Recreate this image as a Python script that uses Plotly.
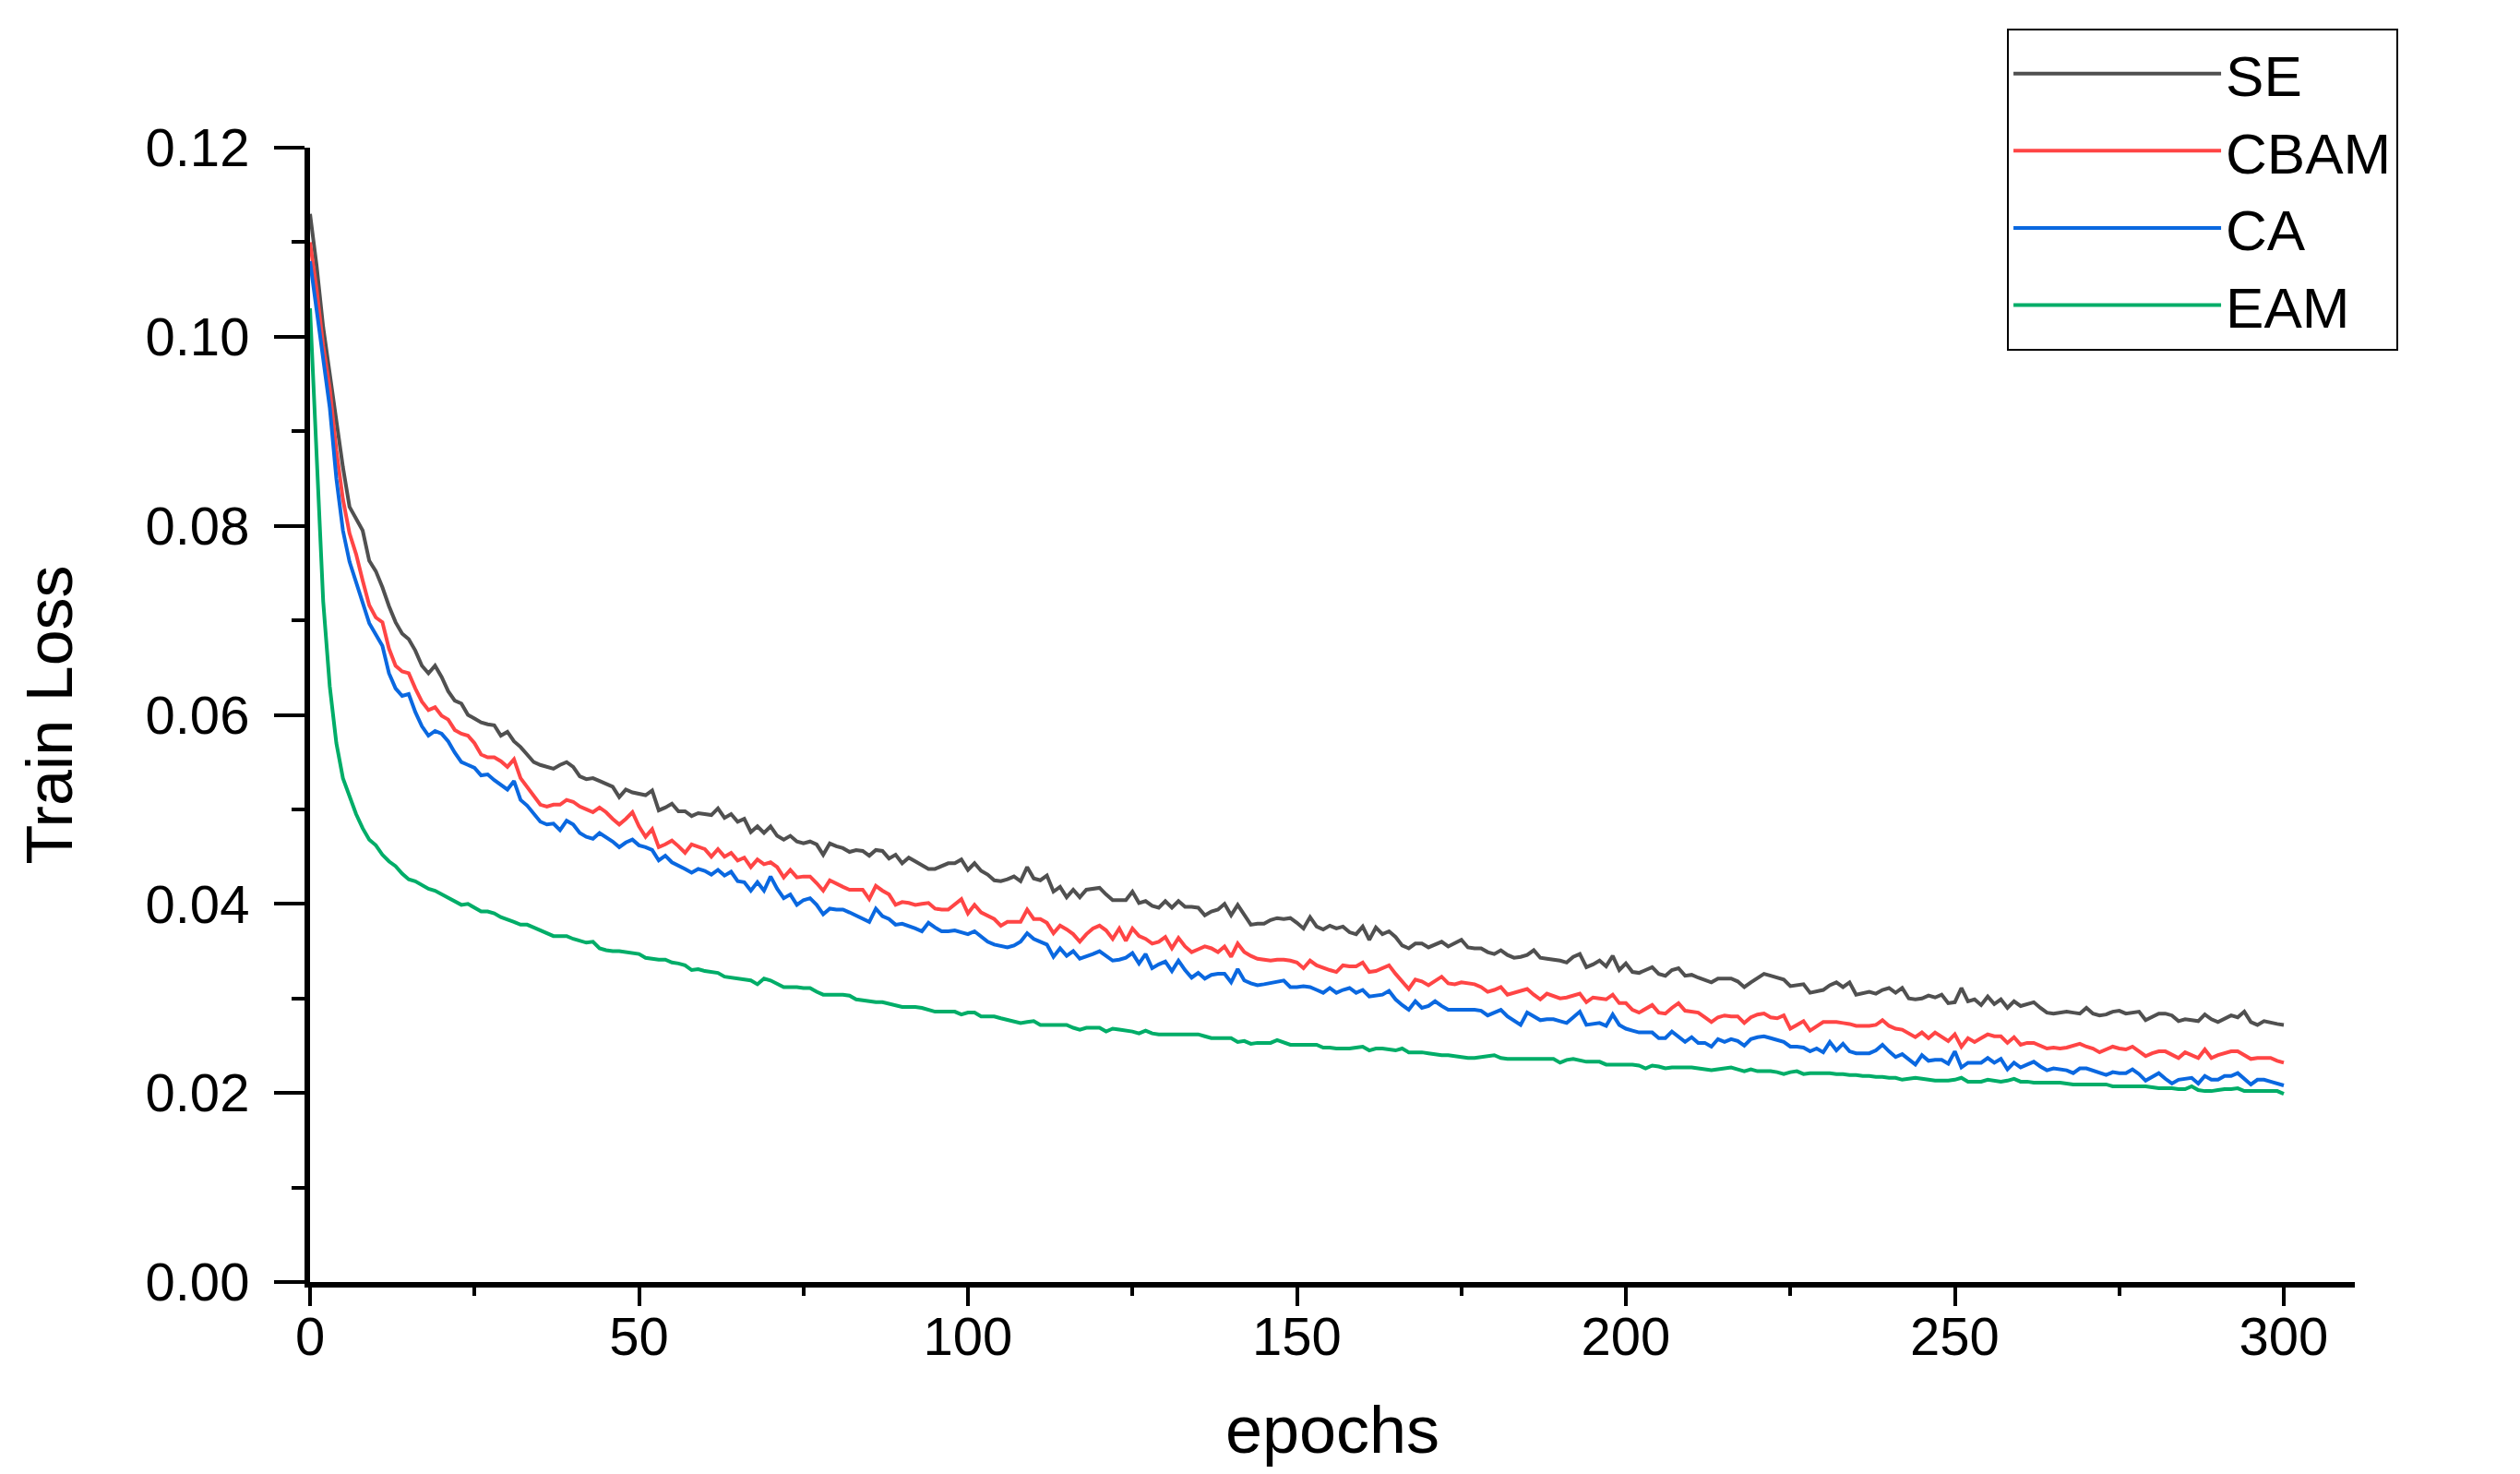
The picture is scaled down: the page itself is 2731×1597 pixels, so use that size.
import plotly.graph_objects as go

series_names = ["SE", "CBAM", "CA", "EAM"]
series_colors = ["#505050", "#FF4545", "#0A68E0", "#00AD68"]

se_loss = [
    0.1130, 0.1075, 0.1010, 0.0960, 0.0905, 0.0862, 0.0820, 0.0808, 0.0795, 0.0763,
    0.0752, 0.0735, 0.0715, 0.0698, 0.0686, 0.0680, 0.0668, 0.0652, 0.0644, 0.0652,
    0.0640, 0.0625, 0.0615, 0.0612, 0.0600, 0.0596, 0.0592, 0.0590, 0.0589, 0.0578,
    0.0582, 0.0572, 0.0566, 0.0558, 0.0550, 0.0547, 0.0545, 0.0543, 0.0547, 0.0550,
    0.0545, 0.0535, 0.0532, 0.0533, 0.0530, 0.0527, 0.0524, 0.0513, 0.0521, 0.0518,
    0.0517, 0.0515, 0.0520, 0.0499, 0.0502, 0.0506, 0.0498, 0.0498, 0.0493, 0.0496,
    0.0495, 0.0494, 0.0501, 0.0491, 0.0495, 0.0487, 0.0490, 0.0476, 0.0482, 0.0475,
    0.0482, 0.0472, 0.0468, 0.0472, 0.0466, 0.0464, 0.0466, 0.0463, 0.0452, 0.0464,
    0.0461, 0.0459, 0.0455, 0.0457, 0.0456, 0.0451, 0.0457, 0.0456, 0.0448, 0.0452,
    0.0443, 0.0449, 0.0445, 0.0441, 0.0437, 0.0437, 0.0440, 0.0443, 0.0443, 0.0447,
    0.0436, 0.0443, 0.0435, 0.0431, 0.0425, 0.0424, 0.0426, 0.0429, 0.0424, 0.0439,
    0.0427, 0.0425, 0.0430, 0.0413, 0.0418, 0.0407, 0.0415, 0.0407, 0.0415, 0.0416,
    0.0417, 0.0410, 0.0404, 0.0404, 0.0404, 0.0413, 0.0401, 0.0403, 0.0398, 0.0396,
    0.0403, 0.0396, 0.0403, 0.0397, 0.0397, 0.0396, 0.0388, 0.0392, 0.0394, 0.0400,
    0.0388, 0.0399, 0.0388, 0.0378, 0.0379, 0.0379, 0.0383, 0.0385, 0.0384, 0.0385,
    0.0380, 0.0374, 0.0386, 0.0376, 0.0373, 0.0377, 0.0374, 0.0376, 0.0370, 0.0368,
    0.0376, 0.0362, 0.0375, 0.0368, 0.0371, 0.0365, 0.0356, 0.0353, 0.0358, 0.0358,
    0.0354, 0.0357, 0.0360, 0.0355, 0.0358, 0.0362, 0.0354, 0.0353, 0.0353, 0.0349,
    0.0347, 0.0351, 0.0346, 0.0343, 0.0344, 0.0346, 0.0351, 0.0343, 0.0342, 0.0341,
    0.0340, 0.0338, 0.0344, 0.0347, 0.0333, 0.0336, 0.0340, 0.0334, 0.0345, 0.0330,
    0.0337, 0.0328, 0.0327, 0.0330, 0.0333, 0.0326, 0.0324, 0.0330, 0.0332, 0.0324,
    0.0325, 0.0322, 0.0320, 0.0317, 0.0321, 0.0321, 0.0321, 0.0318, 0.0312, 0.0317,
    0.0321, 0.0326, 0.0324, 0.0322, 0.0320, 0.0313, 0.0314, 0.0315, 0.0306, 0.0308,
    0.0309, 0.0314, 0.0317, 0.0312, 0.0317, 0.0304, 0.0306, 0.0307, 0.0305, 0.0309,
    0.0311, 0.0306, 0.0311, 0.0300, 0.0299, 0.0300, 0.0303, 0.0301, 0.0304, 0.0295,
    0.0296, 0.0311, 0.0297, 0.0299, 0.0293, 0.0302, 0.0294, 0.0299, 0.0290, 0.0297,
    0.0292, 0.0294, 0.0296, 0.0290, 0.0285, 0.0284, 0.0285, 0.0286, 0.0285, 0.0284,
    0.0290, 0.0284, 0.0282, 0.0283, 0.0286, 0.0287, 0.0284, 0.0285, 0.0286, 0.0277,
    0.0281, 0.0284, 0.0284, 0.0282, 0.0276, 0.0278, 0.0277, 0.0276, 0.0283, 0.0278,
    0.0275, 0.0279, 0.0282, 0.0280, 0.0286, 0.0275, 0.0272, 0.0276, 0.0274, 0.0273,
    0.0272,
]

cbam_loss = [
    0.1100, 0.1050, 0.0990, 0.0945, 0.0880, 0.0828, 0.0792, 0.0770, 0.0742, 0.0716,
    0.0703, 0.0698, 0.0670, 0.0652, 0.0646, 0.0644, 0.0628, 0.0614, 0.0605, 0.0608,
    0.0599, 0.0595, 0.0584, 0.0580, 0.0578, 0.0570, 0.0558, 0.0555, 0.0555, 0.0551,
    0.0545, 0.0553, 0.0533, 0.0524, 0.0515, 0.0505, 0.0503, 0.0505, 0.0505, 0.0510,
    0.0508, 0.0503, 0.0500, 0.0497, 0.0502, 0.0497, 0.0490, 0.0484, 0.0490, 0.0497,
    0.0482, 0.0471, 0.0479, 0.0460, 0.0463, 0.0467, 0.0461, 0.0454, 0.0463, 0.0461,
    0.0458, 0.0450, 0.0458, 0.0450, 0.0454, 0.0446, 0.0449, 0.0439, 0.0447, 0.0442,
    0.0444, 0.0439, 0.0428, 0.0436, 0.0428, 0.0429, 0.0429, 0.0422, 0.0414, 0.0425,
    0.0421, 0.0418, 0.0415, 0.0415, 0.0415, 0.0405, 0.0419, 0.0414, 0.0410, 0.0399,
    0.0402, 0.0401, 0.0399, 0.0400, 0.0401, 0.0395, 0.0394, 0.0394, 0.0400, 0.0405,
    0.0390, 0.0399, 0.0391, 0.0388, 0.0384, 0.0377, 0.0381, 0.0381, 0.0381, 0.0394,
    0.0384, 0.0384, 0.0380, 0.0369, 0.0377, 0.0373, 0.0368, 0.0360, 0.0368, 0.0374,
    0.0377, 0.0372, 0.0363, 0.0374, 0.0361, 0.0374, 0.0366, 0.0363, 0.0358, 0.0360,
    0.0365, 0.0353, 0.0364, 0.0355, 0.0349, 0.0352, 0.0355, 0.0353, 0.0349, 0.0355,
    0.0344, 0.0358, 0.0349, 0.0345, 0.0342, 0.0341, 0.0340, 0.0341, 0.0341, 0.0340,
    0.0338, 0.0332, 0.0340, 0.0335, 0.0332, 0.0330, 0.0328, 0.0335, 0.0334, 0.0334,
    0.0338, 0.0328, 0.0329, 0.0332, 0.0335, 0.0326, 0.0318, 0.0310, 0.0320, 0.0318,
    0.0314, 0.0318, 0.0323, 0.0316, 0.0315, 0.0317, 0.0316, 0.0315, 0.0312, 0.0307,
    0.0309, 0.0312, 0.0304, 0.0306, 0.0308, 0.0310, 0.0304, 0.0299, 0.0305, 0.0303,
    0.0300, 0.0301, 0.0303, 0.0305, 0.0296, 0.0301, 0.0300, 0.0299, 0.0304, 0.0295,
    0.0295, 0.0288, 0.0285, 0.0289, 0.0293, 0.0285, 0.0284, 0.0290, 0.0295, 0.0287,
    0.0286, 0.0285, 0.0280, 0.0275, 0.0280, 0.0282, 0.0281, 0.0281, 0.0274, 0.0280,
    0.0283, 0.0284, 0.0280, 0.0279, 0.0282, 0.0268, 0.0272, 0.0276, 0.0266, 0.0271,
    0.0275, 0.0275, 0.0275, 0.0274, 0.0273, 0.0271, 0.0271, 0.0271, 0.0272, 0.0277,
    0.0271, 0.0268, 0.0267, 0.0263, 0.0259, 0.0264, 0.0258, 0.0264, 0.0260, 0.0255,
    0.0262, 0.0249, 0.0258, 0.0254, 0.0258, 0.0262, 0.0260, 0.0260, 0.0253, 0.0259,
    0.0251, 0.0253, 0.0253, 0.0250, 0.0247, 0.0248, 0.0247, 0.0248, 0.0250, 0.0252,
    0.0249, 0.0247, 0.0243, 0.0246, 0.0249, 0.0247, 0.0246, 0.0249, 0.0244, 0.0239,
    0.0242, 0.0244, 0.0244, 0.0241, 0.0237, 0.0243, 0.0240, 0.0237, 0.0246, 0.0237,
    0.0240, 0.0242, 0.0244, 0.0244, 0.0240, 0.0236, 0.0237, 0.0237, 0.0237, 0.0234,
    0.0232,
]

ca_loss = [
    0.1080, 0.1030, 0.0975, 0.0925, 0.0850, 0.0795, 0.0762, 0.0740, 0.0718, 0.0697,
    0.0685, 0.0673, 0.0644, 0.0628, 0.0620, 0.0622, 0.0603, 0.0588, 0.0578, 0.0583,
    0.0580, 0.0572, 0.0560, 0.0550, 0.0547, 0.0544, 0.0536, 0.0537, 0.0531, 0.0526,
    0.0521, 0.0530, 0.0510, 0.0504, 0.0495, 0.0487, 0.0484, 0.0485, 0.0478, 0.0488,
    0.0484, 0.0475, 0.0471, 0.0469, 0.0475, 0.0471, 0.0466, 0.0460, 0.0465, 0.0468,
    0.0462, 0.0460, 0.0457, 0.0446, 0.0451, 0.0444, 0.0441, 0.0437, 0.0433, 0.0437,
    0.0435, 0.0431, 0.0436, 0.0430, 0.0434, 0.0424, 0.0423, 0.0414, 0.0423, 0.0414,
    0.0429, 0.0416, 0.0406, 0.0410, 0.0399, 0.0404, 0.0406, 0.0399, 0.0389, 0.0395,
    0.0394, 0.0394, 0.0391, 0.0388, 0.0385, 0.0381, 0.0395, 0.0387, 0.0384, 0.0378,
    0.0379, 0.0377, 0.0374, 0.0371, 0.0380, 0.0375, 0.0371, 0.0371, 0.0372, 0.0370,
    0.0368, 0.0371, 0.0366, 0.0360, 0.0357, 0.0355, 0.0354, 0.0356, 0.0360, 0.0369,
    0.0363, 0.0360, 0.0357, 0.0344, 0.0353, 0.0345, 0.0350, 0.0342, 0.0344, 0.0347,
    0.0350, 0.0345, 0.0340, 0.0341, 0.0343, 0.0348, 0.0337, 0.0347, 0.0332, 0.0336,
    0.0339, 0.0329, 0.0340, 0.0330, 0.0322, 0.0327, 0.0321, 0.0325, 0.0326, 0.0326,
    0.0317, 0.0331, 0.0319, 0.0316, 0.0314, 0.0315, 0.0316, 0.0318, 0.0319, 0.0312,
    0.0312, 0.0313, 0.0312, 0.0309, 0.0306, 0.0311, 0.0306, 0.0309, 0.0311, 0.0306,
    0.0309, 0.0302, 0.0303, 0.0304, 0.0308, 0.0299, 0.0293, 0.0288, 0.0297, 0.0290,
    0.0292, 0.0297, 0.0292, 0.0288, 0.0288, 0.0288, 0.0288, 0.0288, 0.0287, 0.0282,
    0.0285, 0.0288, 0.0281, 0.0276, 0.0272, 0.0285, 0.0281, 0.0277, 0.0278, 0.0278,
    0.0276, 0.0274, 0.0280, 0.0286, 0.0272, 0.0273, 0.0274, 0.0271, 0.0283, 0.0272,
    0.0268, 0.0266, 0.0264, 0.0264, 0.0264, 0.0258, 0.0258, 0.0265, 0.0260, 0.0254,
    0.0259, 0.0253, 0.0253, 0.0249, 0.0257, 0.0254, 0.0257, 0.0255, 0.0250, 0.0257,
    0.0259, 0.0260, 0.0258, 0.0256, 0.0254, 0.0249, 0.0249, 0.0248, 0.0244, 0.0247,
    0.0243, 0.0254, 0.0245, 0.0252, 0.0244, 0.0242, 0.0242, 0.0242, 0.0245, 0.0251,
    0.0244, 0.0238, 0.0241, 0.0236, 0.0230, 0.0240, 0.0234, 0.0235, 0.0235, 0.0231,
    0.0244, 0.0227, 0.0232, 0.0232, 0.0232, 0.0237, 0.0232, 0.0236, 0.0225, 0.0232,
    0.0227, 0.0230, 0.0233, 0.0228, 0.0224, 0.0226, 0.0225, 0.0224, 0.0221, 0.0226,
    0.0226, 0.0224, 0.0222, 0.0219, 0.0222, 0.0221, 0.0221, 0.0225, 0.0220, 0.0213,
    0.0217, 0.0221, 0.0215, 0.0210, 0.0214, 0.0215, 0.0216, 0.0210, 0.0218, 0.0214,
    0.0214, 0.0218, 0.0218, 0.0221, 0.0215, 0.0209, 0.0214, 0.0214, 0.0212, 0.0210,
    0.0208,
]

eam_loss = [
    0.1030, 0.0880, 0.0720, 0.0630, 0.0570, 0.0533, 0.0513, 0.0495, 0.0480, 0.0468,
    0.0462, 0.0452, 0.0445, 0.0440, 0.0432, 0.0426, 0.0424, 0.0420, 0.0416, 0.0414,
    0.0410, 0.0406, 0.0403, 0.0399, 0.0400, 0.0396, 0.0392, 0.0392, 0.0390, 0.0386,
    0.0384, 0.0381, 0.0378, 0.0378, 0.0375, 0.0372, 0.0369, 0.0366, 0.0366, 0.0366,
    0.0363, 0.0361, 0.0359, 0.0360, 0.0353, 0.0351, 0.0350, 0.0350, 0.0349, 0.0348,
    0.0347, 0.0343, 0.0342, 0.0341, 0.0341, 0.0338, 0.0337, 0.0335, 0.0330, 0.0331,
    0.0329, 0.0328, 0.0327, 0.0323, 0.0322, 0.0321, 0.0320, 0.0319, 0.0315, 0.0321,
    0.0319, 0.0316, 0.0312, 0.0312, 0.0312, 0.0311, 0.0311, 0.0307, 0.0304, 0.0304,
    0.0304, 0.0304, 0.0303, 0.0299, 0.0298, 0.0297, 0.0296, 0.0296, 0.0294, 0.0293,
    0.0291, 0.0291, 0.0291, 0.0290, 0.0288, 0.0286, 0.0286, 0.0286, 0.0286, 0.0283,
    0.0285, 0.0285, 0.0281, 0.0281, 0.0281, 0.0279, 0.0277, 0.0276, 0.0274, 0.0275,
    0.0276, 0.0272, 0.0272, 0.0272, 0.0272, 0.0272, 0.0269, 0.0267, 0.0269, 0.0269,
    0.0269, 0.0265, 0.0268, 0.0267, 0.0266, 0.0265, 0.0263, 0.0266, 0.0263, 0.0262,
    0.0262, 0.0262, 0.0262, 0.0262, 0.0262, 0.0262, 0.0260, 0.0258, 0.0258, 0.0258,
    0.0258, 0.0254, 0.0255, 0.0252, 0.0253, 0.0253, 0.0253, 0.0256, 0.0253, 0.0251,
    0.0251, 0.0251, 0.0251, 0.0251, 0.0248, 0.0248, 0.0247, 0.0247, 0.0247, 0.0248,
    0.0249, 0.0245, 0.0247, 0.0247, 0.0246, 0.0245, 0.0247, 0.0243, 0.0243, 0.0243,
    0.0242, 0.0241, 0.0240, 0.0240, 0.0239, 0.0238, 0.0237, 0.0237, 0.0238, 0.0239,
    0.0240, 0.0237, 0.0236, 0.0236, 0.0236, 0.0236, 0.0236, 0.0236, 0.0236, 0.0236,
    0.0232, 0.0235, 0.0236, 0.0234, 0.0233, 0.0233, 0.0233, 0.0230, 0.0230, 0.0230,
    0.0230, 0.0230, 0.0229, 0.0226, 0.0229, 0.0228, 0.0226, 0.0227, 0.0227, 0.0227,
    0.0227, 0.0226, 0.0225, 0.0224, 0.0225, 0.0226, 0.0227, 0.0225, 0.0223, 0.0225,
    0.0223, 0.0223, 0.0223, 0.0222, 0.0220, 0.0222, 0.0223, 0.0220, 0.0221, 0.0221,
    0.0221, 0.0221, 0.0220, 0.0220, 0.0219, 0.0219, 0.0218, 0.0218, 0.0217, 0.0217,
    0.0216, 0.0216, 0.0214, 0.0215, 0.0216, 0.0215, 0.0214, 0.0213, 0.0213, 0.0213,
    0.0214, 0.0216, 0.0212, 0.0212, 0.0212, 0.0214, 0.0213, 0.0212, 0.0213, 0.0215,
    0.0212, 0.0212, 0.0211, 0.0211, 0.0211, 0.0211, 0.0211, 0.0210, 0.0209, 0.0209,
    0.0209, 0.0209, 0.0209, 0.0209, 0.0207, 0.0207, 0.0207, 0.0207, 0.0207, 0.0207,
    0.0206, 0.0205, 0.0205, 0.0205, 0.0204, 0.0204, 0.0207, 0.0203, 0.0202, 0.0202,
    0.0203, 0.0204, 0.0204, 0.0205, 0.0202, 0.0202, 0.0202, 0.0202, 0.0202, 0.0202,
    0.0199,
]

y_tick_values = [0.00, 0.02, 0.04, 0.06, 0.08, 0.10, 0.12]
y_tick_labels = ["0.00", "0.02", "0.04", "0.06", "0.08", "0.10", "0.12"]
x_tick_values = [0, 50, 100, 150, 200, 250, 300]
x_tick_labels = ["0", "50", "100", "150", "200", "250", "300"]

all_series = [se_loss, cbam_loss, ca_loss, eam_loss]

FONT = "Liberation Sans, Arial, sans-serif"

fig = go.Figure()
for name, color, vals in zip(series_names, series_colors, all_series):
    epochs = list(range(len(vals)))
    fig.add_trace(go.Scatter(
        x=epochs, y=vals, mode="lines", name=name,
        line=dict(color=color, width=4),
    ))

fig.update_layout(
    width=2731, height=1597,
    paper_bgcolor="white", plot_bgcolor="white",
    margin=dict(l=328, r=187, t=152, b=216, pad=0),
    font=dict(family=FONT, color="black"),
    showlegend=True,
    legend=dict(
        x=0.8299, y=1.105, xanchor="left", yanchor="top",
        bordercolor="black", borderwidth=2, bgcolor="white",
        font=dict(family=FONT, size=62, color="black"),
        itemwidth=225, tracegroupgap=0,
    ),
)

fig.update_xaxes(
    range=[0, 310.8], showgrid=False, zeroline=False,
    showline=True, linecolor="black", linewidth=6, mirror=False,
    ticks="outside", ticklen=20, tickwidth=4, tickcolor="black",
    tickvals=x_tick_values, ticktext=x_tick_labels,
    tickfont=dict(family=FONT, size=58, color="black"),
    ticklabelstandoff=-17,
    minor=dict(dtick=25, tick0=0, ticks="outside", ticklen=9, tickwidth=4, tickcolor="black", showgrid=False),
    title=dict(text="epochs", font=dict(family=FONT, size=72, color="black"), standoff=47),
)
fig.update_yaxes(
    range=[0, 0.12], showgrid=False, zeroline=False,
    showline=True, linecolor="black", linewidth=6, mirror=False,
    ticks="outside", ticklen=33, tickwidth=4, tickcolor="black",
    tickvals=y_tick_values, ticktext=y_tick_labels,
    tickfont=dict(family=FONT, size=58, color="black"),
    ticklabelstandoff=15,
    minor=dict(dtick=0.01, tick0=0, ticks="outside", ticklen=14, tickwidth=4, tickcolor="black", showgrid=False),
    title=dict(text="Train Loss", font=dict(family=FONT, size=70, color="black"), standoff=58),
)

fig.write_html("out.html")
